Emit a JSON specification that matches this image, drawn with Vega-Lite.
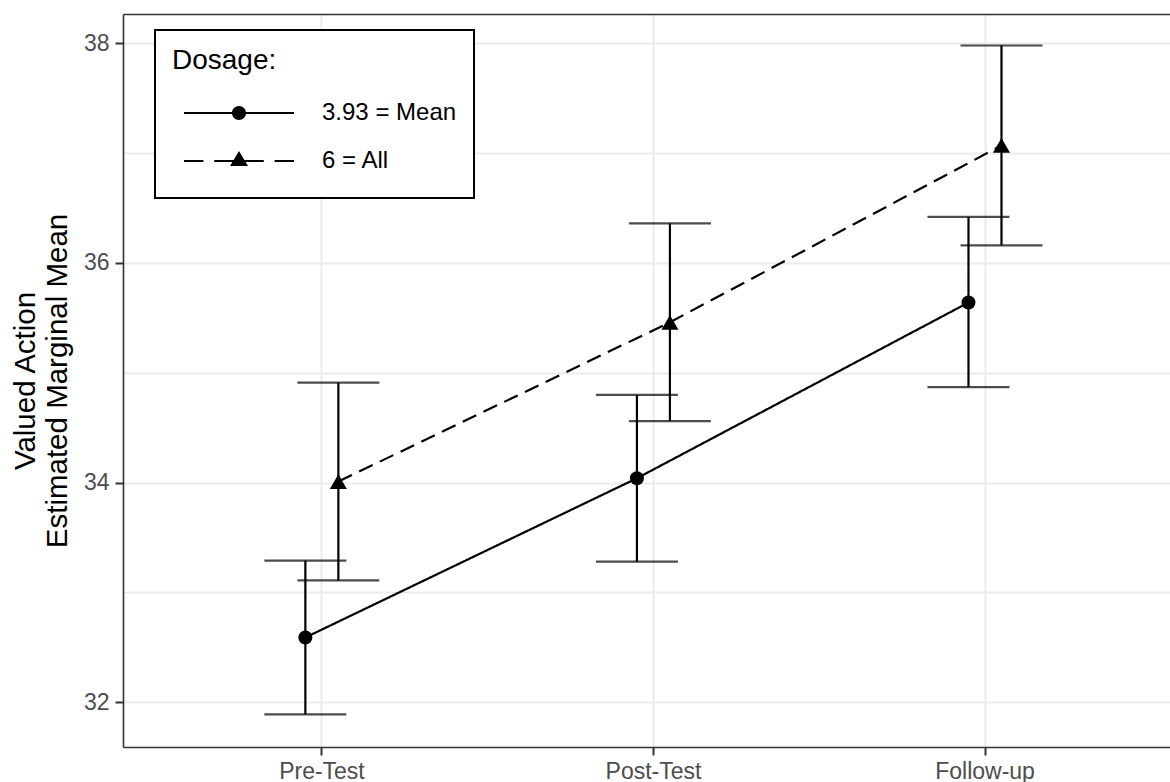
{
  "$schema": "https://vega.github.io/schema/vega-lite/v6.json",
  "autosize": {"type": "none"},
  "width": 1047,
  "height": 733,
  "padding": {"left": 123, "top": 14, "right": 0, "bottom": 35},
  "background": "white",
  "config": {
    "view": {"stroke": null},
    "font": "Liberation Sans",
    "legend": {"strokeWidth": 2},
    "axis": {
      "labelFont": "Liberation Sans",
      "titleFont": "Liberation Sans",
      "domainColor": "#333333",
      "domainWidth": 1.6,
      "tickColor": "#333333",
      "tickWidth": 2,
      "tickSize": 8,
      "gridColor": "#ebebeb",
      "gridWidth": 2,
      "labelColor": "#4d4d4d",
      "labelFontSize": 23
    }
  },
  "data": {
    "values": [
      {"Time": "Pre-Test", "Dosage": "3.93 = Mean", "emmean": 32.59, "lower": 31.89, "upper": 33.29},
      {"Time": "Pre-Test", "Dosage": "6 = All", "emmean": 34.01, "lower": 33.11, "upper": 34.91},
      {"Time": "Post-Test", "Dosage": "3.93 = Mean", "emmean": 34.04, "lower": 33.28, "upper": 34.80},
      {"Time": "Post-Test", "Dosage": "6 = All", "emmean": 35.46, "lower": 34.56, "upper": 36.36},
      {"Time": "Follow-up", "Dosage": "3.93 = Mean", "emmean": 35.64, "lower": 34.87, "upper": 36.42},
      {"Time": "Follow-up", "Dosage": "6 = All", "emmean": 37.07, "lower": 36.16, "upper": 37.98}
    ]
  },
  "resolve": {"scale": {"shape": "independent"}, "axis": {"x": "independent"}},
  "layer": [
    {
      "mark": {"type": "line", "color": "black", "strokeWidth": 2.2},
      "encoding": {
        "x": {
          "field": "Time", "type": "nominal",
          "sort": ["Pre-Test", "Post-Test", "Follow-up"],
          "scale": {"type": "band", "range": [0, 1061], "paddingInner": 0.9, "paddingOuter": 0.55},
          "axis": {
            "title": null, "orient": "bottom", "labelAngle": 0, "labelPadding": 5,
            "bandPosition": 0.5, "grid": true, "domain": true
          }
        },
        "xOffset": {
          "field": "Dosage", "type": "nominal",
          "scale": {"range": [-16.5, 49.5], "paddingInner": 0, "paddingOuter": 0}
        },
        "y": {
          "field": "emmean", "type": "quantitative",
          "scale": {"domain": [31.593, 38.267], "nice": false, "zero": false},
          "axis": {
            "title": ["Valued Action", "Estimated Marginal Mean"],
            "titleFontSize": 29.5,
            "titleFontWeight": "normal",
            "titleColor": "black",
            "titleLineHeight": 32,
            "titlePadding": 11,
            "values": [32, 33, 34, 35, 36, 37, 38],
            "labelExpr": "datum.value % 2 === 0 ? format(datum.value, 'd') : ''",
            "labelPadding": 6,
            "tickColor": {"condition": {"test": "datum.value % 2 !== 0", "value": "transparent"}, "value": "#333333"},
            "grid": true,
            "domain": true
          }
        },
        "detail": {"field": "Dosage"},
        "strokeDash": {
          "field": "Dosage", "type": "nominal",
          "scale": {"domain": ["3.93 = Mean", "6 = All"], "range": [[1, 0], [15, 8]]},
          "legend": null
        }
      }
    },
    {
      "mark": {"type": "rule", "color": "black", "strokeWidth": 2.2},
      "encoding": {
        "x": {"field": "Time", "type": "nominal", "sort": ["Pre-Test", "Post-Test", "Follow-up"], "axis": null},
        "xOffset": {"field": "Dosage", "type": "nominal"},
        "y": {"field": "lower", "type": "quantitative"},
        "y2": {"field": "upper"}
      }
    },
    {
      "mark": {"type": "tick", "color": "black", "size": 82, "thickness": 2.2, "orient": "horizontal"},
      "encoding": {
        "x": {"field": "Time", "type": "nominal", "sort": ["Pre-Test", "Post-Test", "Follow-up"], "axis": null},
        "xOffset": {"field": "Dosage", "type": "nominal"},
        "y": {"field": "lower", "type": "quantitative"}
      }
    },
    {
      "mark": {"type": "tick", "color": "black", "size": 82, "thickness": 2.2, "orient": "horizontal"},
      "encoding": {
        "x": {"field": "Time", "type": "nominal", "sort": ["Pre-Test", "Post-Test", "Follow-up"], "axis": null},
        "xOffset": {"field": "Dosage", "type": "nominal"},
        "y": {"field": "upper", "type": "quantitative"}
      }
    },
    {
      "mark": {"type": "point", "filled": true, "color": "black", "opacity": 1},
      "encoding": {
        "x": {"field": "Time", "type": "nominal", "sort": ["Pre-Test", "Post-Test", "Follow-up"], "axis": null},
        "xOffset": {"field": "Dosage", "type": "nominal"},
        "y": {"field": "emmean", "type": "quantitative"},
        "shape": {
          "field": "Dosage", "type": "nominal",
          "scale": {"domain": ["3.93 = Mean", "6 = All"], "range": ["circle", "triangle-up"]},
          "legend": null
        },
        "size": {
          "field": "Dosage", "type": "nominal",
          "scale": {"domain": ["3.93 = Mean", "6 = All"], "range": [196, 290]},
          "legend": null
        }
      }
    },
    {
      "mark": {"type": "point", "filled": true, "color": "black", "opacity": 0},
      "encoding": {
        "x": {
          "field": "Time", "type": "nominal", "sort": ["Pre-Test", "Post-Test", "Follow-up"],
          "axis": {"orient": "top", "title": null, "labels": false, "ticks": false, "grid": false, "domain": true}
        },
        "xOffset": {"field": "Dosage", "type": "nominal"},
        "y": {"field": "emmean", "type": "quantitative"},
        "shape": {
          "field": "Dosage", "type": "nominal",
          "scale": {
            "domain": ["3.93 = Mean", "6 = All"],
            "range": [
              "M0,-1L0,-1M0,1L0,1M-2.75,-0.055L2.75,-0.055L2.75,0.055L-2.75,0.055ZM-0.35,0A0.35,0.35,0,1,1,0.35,0A0.35,0.35,0,1,1,-0.35,0Z",
              "M0,-1L0,-1M0,1L0,1M-2.75,-0.055L-1.78,-0.055L-1.78,0.055L-2.75,0.055ZM-1.24,-0.055L1.24,-0.055L1.24,0.055L-1.24,0.055ZM1.78,-0.055L2.75,-0.055L2.75,0.055L1.78,0.055ZM0,-0.5L0.45,0.25L-0.45,0.25Z"
            ]
          },
          "legend": {
            "title": "Dosage:",
            "orient": "none",
            "legendX": 32,
            "legendY": 16,
            "padding": 17,
            "strokeColor": "black",
            "fillColor": "white",
            "titleFont": "Liberation Sans",
            "titleFontSize": 28,
            "titleFontWeight": "normal",
            "titleColor": "black",
            "titlePadding": 18,
            "labelFont": "Liberation Sans",
            "labelFontSize": 24,
            "labelColor": "black",
            "labelOffset": 63,
            "symbolSize": 1600,
            "symbolOffset": 47,
            "symbolOpacity": 1,
            "symbolFillColor": "black",
            "symbolStrokeColor": "transparent",
            "symbolStrokeWidth": 0,
            "rowPadding": 8,
            "encode": {
              "symbols": {
                "update": {
                  "fill": {"value": "black"},
                  "fillOpacity": {"value": 1},
                  "opacity": {"value": 1}
                }
              }
            }
          }
        }
      }
    }
  ]
}
